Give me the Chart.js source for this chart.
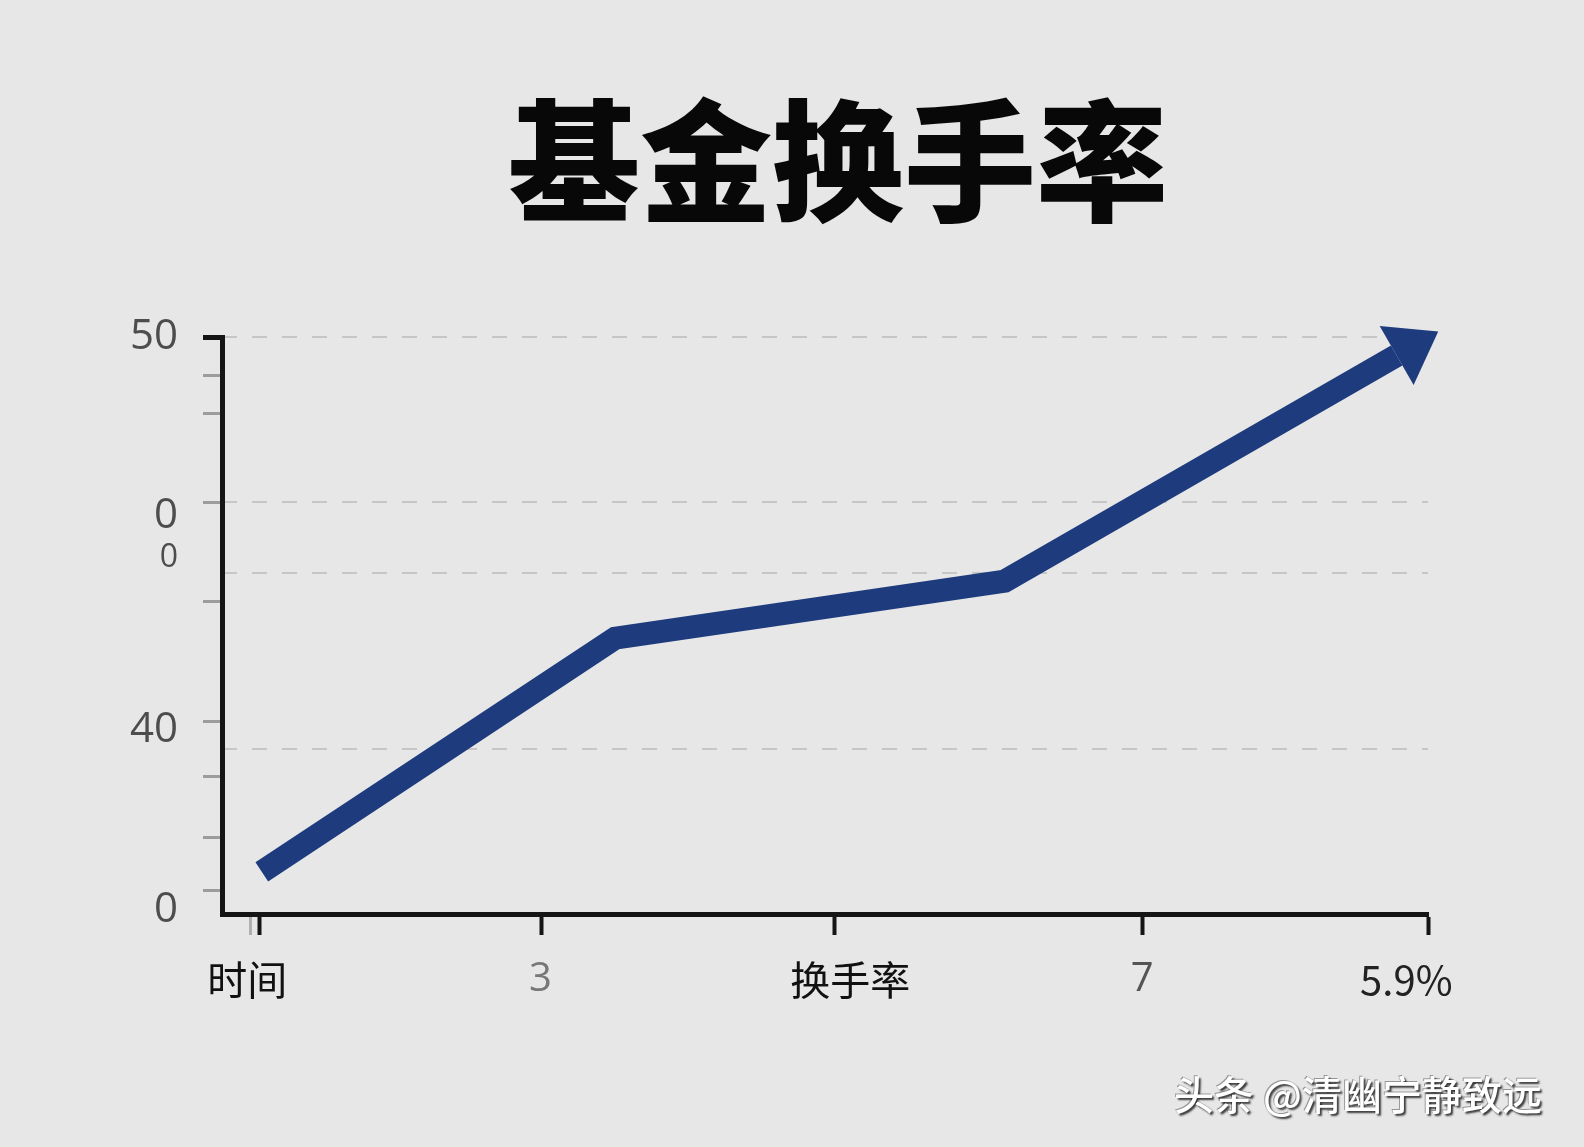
<!DOCTYPE html>
<html>
<head>
<meta charset="utf-8">
<title>基金换手率</title>
<script src="https://cdn.jsdelivr.net/npm/chart.js@4.4.1/dist/chart.umd.min.js"></script>
<style>
    html, body { margin: 0; padding: 0; background: #e7e7e7; overflow: hidden; }
    #wrap { position: relative; width: 1584px; height: 1147px; }
    #chart { position: absolute; left: 0; top: 0; }
    h1 {
        position: absolute; left: 338px; width: 1000px; top: 88px; margin: 0;
        font: 900 132px/132px "Noto Sans CJK SC", sans-serif;
        text-align: center; color: #080808;
    }
    .mark {
        position: absolute; right: 42px; top: 1073px;
        font: 500 40px/40px "Noto Sans CJK SC", sans-serif; color: #fff;
        text-shadow: 2px 2px 2px rgba(0, 0, 0, 0.75), -1px -1px 0 rgba(0, 0, 0, 0.35);
    }
</style>
</head>
<body>
<div id="wrap">
    <canvas id="chart" width="1584" height="1147"></canvas>
    <h1>基金换手率</h1>
    <div class="mark">头条 @清幽宁静致远</div>
</div>
<script>
// ===== DATA =====
const timePoints = [3.3, 32.6, 64.9, 97.4];
const turnover = [7.3, 47.8, 57.7, 96.8];

const xLabels = ['时间', '3', '换手率', '7', '5.9%'];
const xLabelAt = [2.1, 26.4, 52.1, 76.3, 98.2];
const xMarkAt = [2.4, 3.1, 26.5, 50.8, 76.3, 100];

const yLabels = ['50', '0', '0', '40', '0'];
const yLabelAt = [100, 69.0, 61.7, 31.9, 0.7];
const yMarkAt = [100, 93.4, 86.8, 71.4, 54.1, 33.3, 23.9, 13.2, 4.0];
const yGridAt = [100, 71.4, 59.1, 28.6];

// ===== STYLE =====
const LINE = '#1d3b7d';
const CJK = '"Noto Sans CJK SC", sans-serif';
const NUM = '"Open Sans", "Noto Sans CJK SC", sans-serif';
const xLabelColors = ['#111', '#777', '#111', '#555', '#222'];

Chart.defaults.font.family = NUM;

const setTicks = (vals) => (scale) => {
    scale.ticks = vals.map((v) => ({ value: v }));
};

// arrow head at the end of the line, pointing along the last segment
const arrowHead = {
    id: 'arrowHead',
    afterDatasetsDraw(chart) {
        const pts = chart.getDatasetMeta(0).data;
        const a = pts[pts.length - 2];
        const b = pts[pts.length - 1];
        const len = Math.hypot(b.x - a.x, b.y - a.y);
        const ux = (b.x - a.x) / len;
        const uy = (b.y - a.y) / len;
        const ctx = chart.ctx;
        ctx.save();
        ctx.fillStyle = LINE;
        ctx.beginPath();
        ctx.moveTo(b.x + ux * 48, b.y + uy * 48);
        ctx.lineTo(b.x - uy * 34, b.y + ux * 34);
        ctx.lineTo(b.x + uy * 34, b.y - ux * 34);
        ctx.closePath();
        ctx.fill();
        ctx.restore();
    },
};

new Chart(document.getElementById('chart'), {
    type: 'line',
    data: {
        datasets: [{
            data: timePoints.map((x, i) => ({ x, y: turnover[i] })),
            xAxisID: 'x',
            yAxisID: 'y',
            borderColor: LINE,
            borderWidth: 23,
            borderCapStyle: 'butt',
            borderJoinStyle: 'miter',
            pointRadius: 0,
            tension: 0,
            fill: false,
            clip: false,
        }],
    },
    options: {
        responsive: false,
        animation: false,
        layout: { padding: { left: 122, right: 156, top: 337, bottom: 142 } },
        plugins: { legend: { display: false }, tooltip: { enabled: false }, title: { display: false } },
        scales: {
            x: {
                type: 'linear', position: 'bottom', min: 0, max: 100, weight: 0,
                afterBuildTicks: setTicks(xMarkAt),
                afterFit: (s) => { s.height = 21; },
                ticks: { display: false },
                grid: {
                    drawOnChartArea: false, drawTicks: true, tickLength: 21,
                    tickColor: (c) => (c.index === 0 ? '#b0b0b0' : '#151515'),
                    tickWidth: (c) => (c.index === 0 ? 3 : 4),
                },
                border: { display: true, color: '#151515', width: 5 },
            },
            xText: {
                type: 'linear', position: 'bottom', min: 0, max: 100, weight: 1,
                afterBuildTicks: setTicks(xLabelAt),
                afterFit: (s) => { s.height = 70; },
                grid: { display: false, drawTicks: false, tickLength: 0 },
                border: { display: false },
                ticks: {
                    autoSkip: false, maxRotation: 0, padding: 21,
                    callback: (v, i) => xLabels[i],
                    color: (c) => xLabelColors[c.index],
                    font: (c) => ({ size: 40, family: c.index === 1 || c.index === 3 ? NUM : CJK }),
                },
            },
            y: {
                type: 'linear', position: 'left', min: 0, max: 100, weight: 0,
                afterBuildTicks: setTicks(yMarkAt),
                afterFit: (s) => { s.width = 19; },
                ticks: { display: false },
                grid: {
                    drawOnChartArea: false, drawTicks: true, tickLength: 19,
                    tickColor: (c) => (c.index === 0 ? '#151515' : '#9c9c9c'),
                    tickWidth: (c) => (c.index === 0 ? 5 : 3),
                },
                border: { display: true, color: '#151515', width: 5 },
            },
            yText: {
                type: 'linear', position: 'left', min: 0, max: 100, weight: 1,
                afterBuildTicks: setTicks(yLabelAt),
                afterFit: (s) => { s.width = 81; },
                grid: { display: false, drawTicks: false, tickLength: 0 },
                border: { display: false },
                ticks: {
                    autoSkip: false, padding: 25,
                    callback: (v, i) => yLabels[i],
                    color: '#4d4d4d',
                    font: (c) => ({ size: c.index === 2 ? 32 : 42, family: NUM }),
                },
            },
            yGrid: {
                type: 'linear', position: 'right', min: 0, max: 100,
                afterBuildTicks: setTicks(yGridAt),
                afterFit: (s) => { s.width = 0; },
                ticks: { display: false },
                grid: { drawOnChartArea: true, drawTicks: false, color: '#c6c6c6', lineWidth: 2 },
                border: { display: false, dash: [15, 15] },
            },
        },
    },
    plugins: [arrowHead],
});
</script>
</body>
</html>
